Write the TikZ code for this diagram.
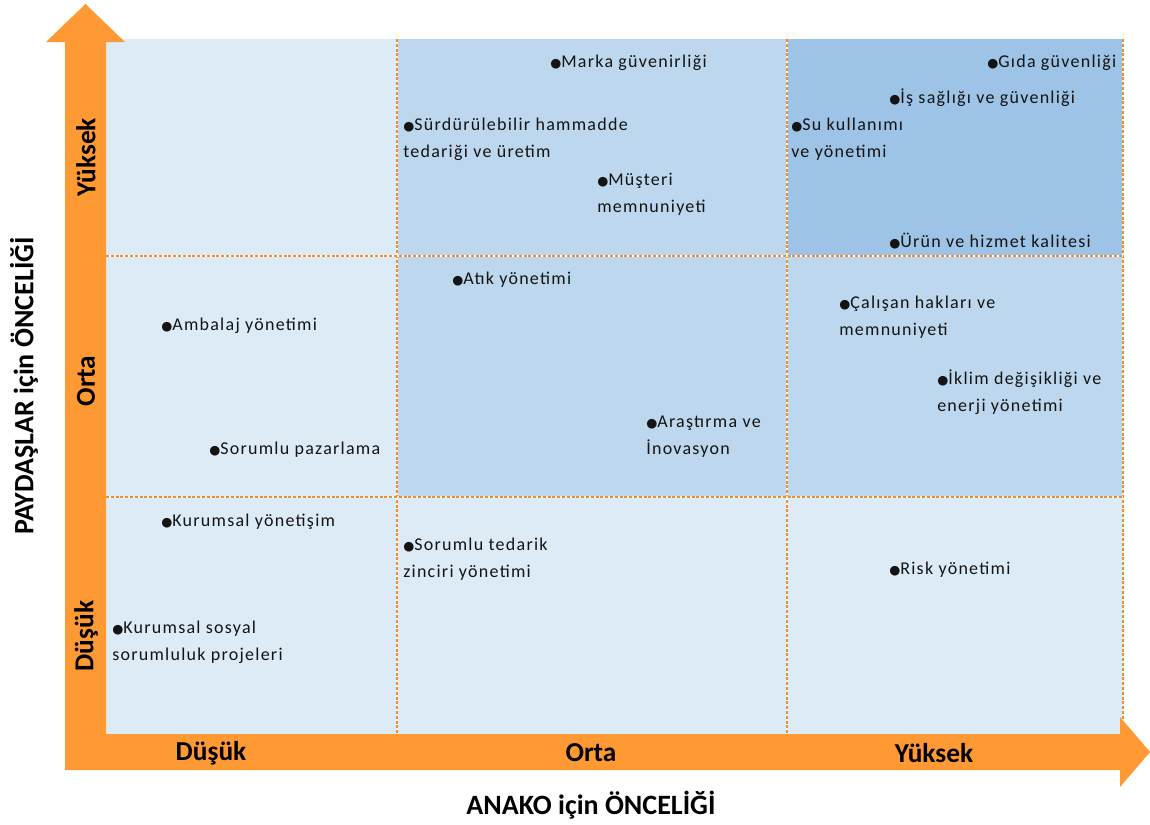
\documentclass[tikz,border=0pt]{standalone}
\usepackage{fontspec}
\setmainfont{Carlito}
\newfontfamily\itemfont[LetterSpace=7]{Carlito}
\newfontfamily\symf{DejaVu Sans}
\definecolor{arrowor}{HTML}{FF9933}
\definecolor{lineor}{HTML}{F58A2E}
\definecolor{cellA}{HTML}{DDEBF7}
\definecolor{cellB}{HTML}{BDD7EE}
\definecolor{cellC}{HTML}{9DC3E6}
\newcommand\bul{{\symf\fontsize{9.5pt}{10pt}\selectfont ●}}
\tikzset{
  itm/.style={anchor=base west, inner sep=0pt, align=left, text=black!92,
    font=\itemfont\fontsize{13.5pt}{19.9pt}\selectfont},
  lvl/.style={inner sep=0pt, font=\bfseries\fontsize{20.5pt}{22pt}\selectfont},
  ttl/.style={inner sep=0pt, font=\bfseries\fontsize{21pt}{24pt}\selectfont},
  gridline/.style={draw=lineor, line width=1.1pt, dash pattern=on 2.2pt off 1.4pt},
  gridbase/.style={draw=white, line width=1.1pt},
}
\begin{document}
\begin{tikzpicture}[x=0.75pt,y=-0.75pt]
\useasboundingbox (0,0) rectangle (1150,825);
% cells
\fill[cellA] (106,39) rectangle (397,256);
\fill[cellB] (397,39) rectangle (787,256);
\fill[cellC] (787,39) rectangle (1123,256);
\fill[cellA] (106,256) rectangle (397,497);
\fill[cellB] (397,256) rectangle (787,497);
\fill[cellB] (787,256) rectangle (1123,497);
\fill[cellA] (106,497) rectangle (1123,734);
% grid lines
\foreach \x in {397,787,1123} {
  \draw[gridbase] (\x,39) -- (\x,734);
  \draw[gridline] (\x,39) -- (\x,734);
}
\foreach \y in {256,497} {
  \draw[gridbase] (106,\y) -- (1123,\y);
  \draw[gridline] (106,\y) -- (1123,\y);
}
% axes arrows
\fill[arrowor] (65,770) -- (65,42) -- (46,42) -- (85.5,4) -- (125,42) -- (106,42)
  -- (106,734) -- (1120,734) -- (1120,717) -- (1150,752) -- (1120,787) -- (1120,770) -- cycle;
% level labels
\node[lvl] (xl) at (211,753) {Düşük};
\node[lvl] (xm) at (591,753) {Orta};
\node[lvl] (xh) at (934,753) {Yüksek};
\node[lvl, rotate=90] (yh) at (86,157) {Yüksek};
\node[lvl, rotate=90] (ym) at (86,381) {Orta};
\node[lvl, rotate=90] (yl) at (86,636) {Düşük};
% titles
\node[ttl] (xt) at (591,805) {ANAKO için ÖNCELİĞİ};
\node[ttl, rotate=90] (yt) at (24,386) {PAYDAŞLAR için ÖNCELİĞİ};
% items (base anchor = baseline of the last line)
\node[itm] (i1) at (550,67.5) {\bul Marka güvenirliği};
\node[itm] (i2) at (987,67.5) {\bul Gıda güvenliği};
\node[itm] (i3) at (889,103.5) {\bul İş sağlığı ve güvenliği};
\node[itm] (i4) at (403,157.5) {\bul Sürdürülebilir hammadde\\tedariği ve üretim};
\node[itm] (i5) at (791,157.5) {\bul Su kullanımı\\ve yönetimi};
\node[itm] (i6) at (597,212.5) {\bul Müşteri\\memnuniyeti};
\node[itm] (i7) at (889,247.5) {\bul Ürün ve hizmet kalitesi};
\node[itm] (i8) at (452,284.5) {\bul Atık yönetimi};
\node[itm] (i9) at (161,330.5) {\bul Ambalaj yönetimi};
\node[itm] (i10) at (839,335.5) {\bul Çalışan hakları ve\\memnuniyeti};
\node[itm] (i11) at (937,411.5) {\bul İklim değişikliği ve\\enerji yönetimi};
\node[itm] (i12) at (646,454.5) {\bul Araştırma ve\\İnovasyon};
\node[itm] (i13) at (209,454.5) {\bul Sorumlu pazarlama};
\node[itm] (i14) at (161,526.5) {\bul Kurumsal yönetişim};
\node[itm] (i15) at (403,577.5) {\bul Sorumlu tedarik\\zinciri yönetimi};
\node[itm] (i16) at (889,574.5) {\bul Risk yönetimi};
\node[itm] (i17) at (112,660.5) {\bul Kurumsal sosyal\\sorumluluk projeleri};
\end{tikzpicture}
\end{document}
